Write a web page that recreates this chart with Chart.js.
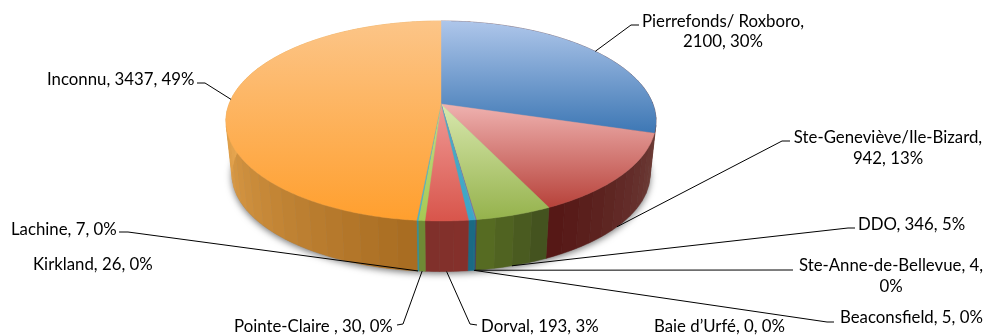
<!DOCTYPE html>
<html>
<head>
<meta charset="utf-8">
<style>
  html, body { margin: 0; padding: 0; background: #fff; }
  canvas { display: block; }
</style>
<script src="https://cdn.jsdelivr.net/npm/chart.js@4"></script>
</head>
<body>
<canvas id="myChart" width="986" height="336"></canvas>
<script>
// Data. Order is the drawing order, clockwise from 12 o'clock
const categories = ['Pierrefonds/ Roxboro', 'Ste-Geneviève/Ile-Bizard', 'DDO', 'Ste-Anne-de-Bellevue',
  'Beaconsfield', 'Kirkland', 'Baie d’Urfé', 'Dorval', 'Pointe-Claire ', 'Lachine', 'Inconnu'];
const values = [2100, 942, 346, 4, 5, 26, 0, 193, 30, 7, 3437];
const percents = [30, 13, 5, 0, 0, 0, 0, 3, 0, 0, 49];

// Top face gradient (back to front) and wall colours (clockwise) of each slice
// (the bit of blue wall at the far right reads as red in the reference)
const topColors = [
  ['#aec6ea', '#3d77b4'], ['#efb2b0', '#b7423a'], ['#d8e8ae', '#95b24c'], ['#8064a2', '#8064a2'],
  ['#4bacc6', '#4bacc6'], ['#4bacc6', '#3ba6c8'], ['#f79646', '#f79646'], ['#f09a96', '#d8554b'],
  ['#c5dc84', '#a6c954'], ['#55b8cc', '#4ab0c8'], ['#fcc588', '#ff9f2e']
];
const wallColors = [
  ['#6b3a35', '#6b3a35'], ['#6b3a35', '#561816'], ['#44531f', '#566b22'], ['#4a3a60', '#4a3a60'],
  ['#1a6a84', '#1a6a84'], ['#1a6a84', '#1a6a84'], ['#aa6e22', '#aa6e22'], ['#84302b', '#80302b'],
  ['#6f8a35', '#6f8a35'], ['#2f90a0', '#2f90a0'], ['#a96d22', '#e6a650']
];

// Layout of the text: lines, anchor, alignment and leader bend (where there is one)
const labelFont = '16.8px Lato, Carlito, sans-serif';
const labelLayout = [
  { x: 723, y: 22, lineGap: 20, align: 'center', split: true, leader: [[631, 25], [639, 25]], rim: 'top' },
  { x: 888, y: 138, lineGap: 21, align: 'center', split: true, leader: [[782, 141], [790, 141]], rim: 'bottom' },
  { x: 858, y: 225, align: 'left', leader: [[848, 228], [855, 228]], rim: 'bottom' },
  { x: 891, y: 266, lineGap: 21, align: 'center', splitLast: true, leader: [[787, 270], [793, 270]], rim: 'bottom' },
  { x: 840, y: 318, align: 'left', leader: [[827, 322], [834, 322]], rim: 'bottom' },
  { x: 33, y: 265, align: 'left' },
  { x: 654, y: 327, align: 'left' },
  { x: 481, y: 327, align: 'left', leader: [[470, 324], [477, 325]], rim: 'bottom' },
  { x: 234, y: 327, align: 'left', leader: [[403, 324], [397, 325]], rim: 'bottom' },
  { x: 11, y: 230, align: 'left', leader: [[128, 232], [119, 232]], rim: 'bottom' },
  { x: 47, y: 80, align: 'left', leader: [[205, 83], [197, 83]], rim: 'top' }
];

// Perspective of the tilted disc: unit circle to the page
const persp = 0.17;
const discTop = { cx: 441, cy: 104, a: 211.9, b: 97.1 };
const discBottom = { cx: 441, cy: 157.8, a: 206, b: 94.4 };

function project(disc, angle) {
  // Chart.js angles start at -PI/2 for 12 o'clock
  const u = Math.cos(angle);
  const v = -Math.sin(angle);
  const w = 1 + persp * v;
  return [disc.cx + disc.a * u / w, disc.cy - disc.b * v / w];
}

function rimPoints(disc, start, end, step) {
  const n = Math.max(1, Math.ceil((end - start) / step));
  const pts = [];
  for (let i = 0; i <= n; i++) pts.push(project(disc, start + (end - start) * i / n));
  return pts;
}

function tracePoly(ctx, pts) {
  ctx.beginPath();
  pts.forEach((p, i) => i ? ctx.lineTo(p[0], p[1]) : ctx.moveTo(p[0], p[1]));
  ctx.closePath();
}

function hexMix(c1, c2, t) {
  const a = parseInt(c1.slice(1), 16), b = parseInt(c2.slice(1), 16);
  const ch = s => Math.round(((a >> s) & 255) * (1 - t) + ((b >> s) & 255) * t);
  return `rgb(${ch(16)},${ch(8)},${ch(0)})`;
}

const pie3d = {
  id: 'pie3d',
  // Chart.js computes the slice angles, this only projects them onto the tilted disc
  beforeDatasetsDraw(chart) {
    const ctx = chart.ctx;
    const arcs = chart.getDatasetMeta(0).data;
    const full = Math.PI * 2;
    const deg = Math.PI / 180;
    ctx.save();

    // soft shadow under the walls
    ctx.save();
    ctx.shadowColor = 'rgba(0,0,0,0.55)';
    ctx.shadowBlur = 7;
    ctx.shadowOffsetY = 2;
    ctx.fillStyle = '#888';
    tracePoly(ctx, rimPoints(discBottom, -Math.PI / 2, -Math.PI / 2 + full, deg));
    ctx.fill();
    ctx.restore();

    // walls, in bands
    arcs.forEach((arc, i) => {
      if (!values[i]) return;
      const bands = Math.max(1, Math.ceil((arc.endAngle - arc.startAngle) / (4.5 * deg)));
      for (let b = 0; b < bands; b++) {
        const s = arc.startAngle + (arc.endAngle - arc.startAngle) * b / bands;
        const e = arc.startAngle + (arc.endAngle - arc.startAngle) * (b + 1) / bands;
        const top = rimPoints(discTop, s, e, deg);
        const bottom = rimPoints(discBottom, s, e, deg).reverse();
        const t = bands > 1 ? b / (bands - 1) : 0;
        // the orange wall only shows over its first half
        const tt = i === 10 ? Math.min(1, t * 2) : t;
        ctx.fillStyle = ctx.strokeStyle = hexMix(wallColors[i][0], wallColors[i][1], tt);
        ctx.lineWidth = 0.5;
        tracePoly(ctx, top.concat(bottom));
        ctx.fill();
        ctx.stroke();
      }
    });

    // top face
    arcs.forEach((arc, i) => {
      if (!values[i]) return;
      const pts = [[discTop.cx, discTop.cy]].concat(rimPoints(discTop, arc.startAngle, arc.endAngle, 0.5 * deg));
      const ys = pts.map(p => p[1]);
      const g = ctx.createLinearGradient(0, Math.min(...ys), 0, Math.max(...ys));
      g.addColorStop(0, topColors[i][0]);
      g.addColorStop(1, topColors[i][1]);
      ctx.fillStyle = ctx.strokeStyle = g;
      ctx.lineWidth = 0.4;
      tracePoly(ctx, pts);
      ctx.fill();
      ctx.stroke();
    });

    // leaders
    ctx.strokeStyle = '#000';
    ctx.lineWidth = 1;
    arcs.forEach((arc, i) => {
      const l = labelLayout[i];
      if (!l.leader) return;
      const start = project(l.rim === 'top' ? discTop : discBottom, (arc.startAngle + arc.endAngle) / 2);
      ctx.beginPath();
      ctx.moveTo(start[0], start[1]);
      l.leader.forEach(p => ctx.lineTo(p[0], p[1]));
      ctx.stroke();
    });

    // labels
    ctx.fillStyle = '#000';
    ctx.font = labelFont;
    ctx.textBaseline = 'middle';
    categories.forEach((name, i) => {
      const l = labelLayout[i];
      let lines = [`${name}, ${values[i]}, ${percents[i]}%`];
      if (l.split) lines = [`${name},`, `${values[i]}, ${percents[i]}%`];
      if (l.splitLast) lines = [`${name}, ${values[i]},`, `${percents[i]}%`];
      ctx.textAlign = l.align;
      lines.forEach((t, k) => ctx.fillText(t, l.x, l.y + k * (l.lineGap || 0)));
    });

    ctx.restore();
    return false; // the flat arcs are replaced by the projected ones
  }
};

new Chart(document.getElementById('myChart'), {
  type: 'pie',
  data: {
    labels: categories,
    datasets: [{ data: values, backgroundColor: topColors.map(c => c[1]), borderWidth: 0 }]
  },
  options: {
    responsive: false,
    animation: false,
    plugins: { legend: { display: false }, tooltip: { enabled: false } }
  },
  plugins: [pie3d]
});
</script>
</body>
</html>
